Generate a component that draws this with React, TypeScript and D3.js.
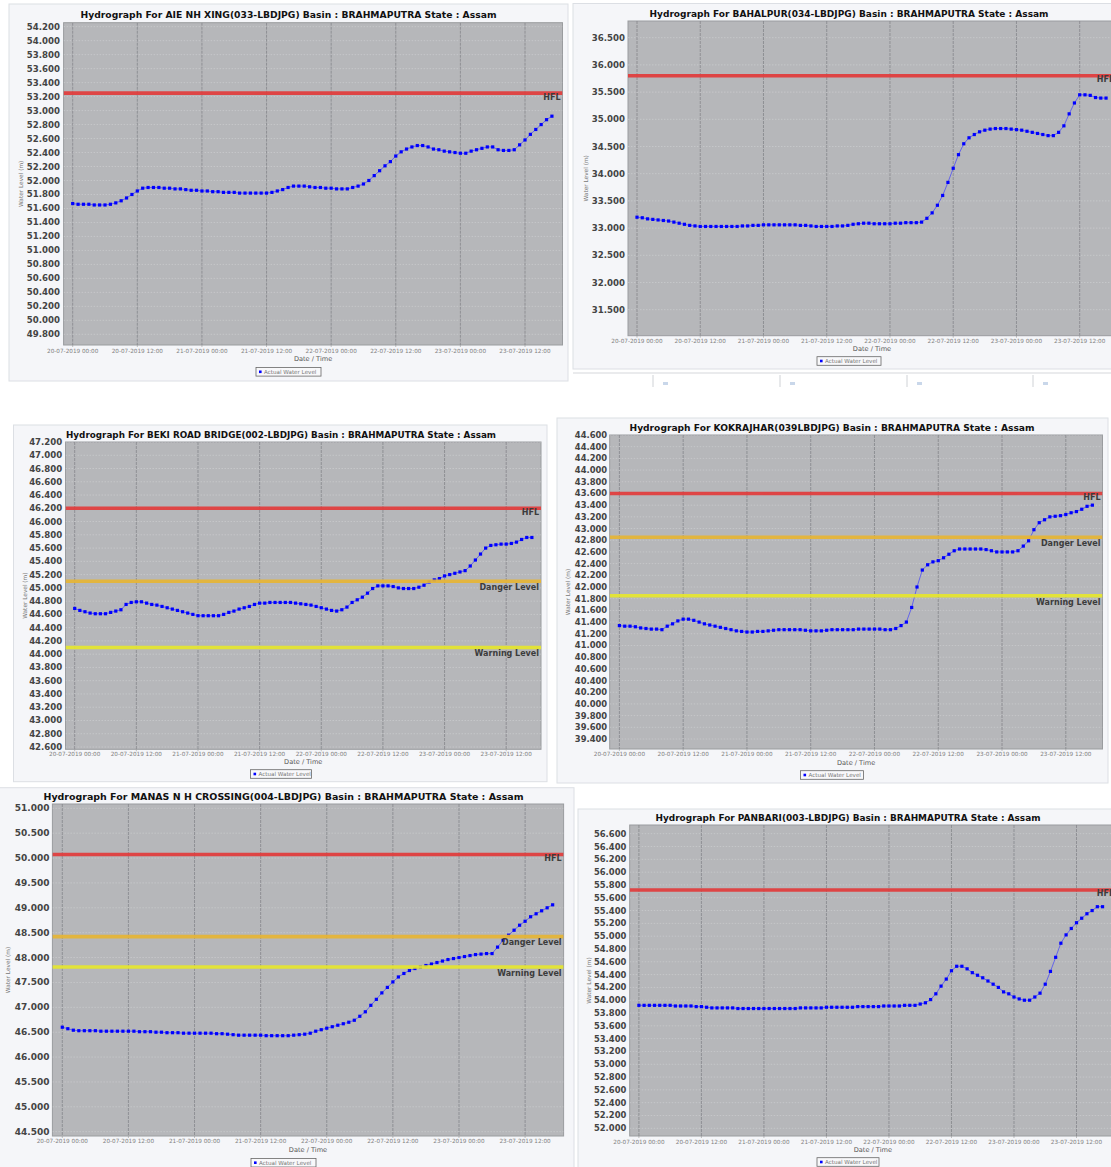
import * as d3 from "d3";

// time axis (hours from 20-07-2019 00:00)
const timeTickHours = [0, 12, 24, 36, 48, 60, 72, 84];
const timeTickLabels = [
  "20-07-2019 00:00", "20-07-2019 12:00", "21-07-2019 00:00", "21-07-2019 12:00",
  "22-07-2019 00:00", "22-07-2019 12:00", "23-07-2019 00:00", "23-07-2019 12:00",
];

const stationTitles = [
  "Hydrograph For AIE NH XING(033-LBDJPG) Basin : BRAHMAPUTRA State : Assam",
  "Hydrograph For BAHALPUR(034-LBDJPG) Basin : BRAHMAPUTRA State : Assam",
  "Hydrograph For BEKI ROAD BRIDGE(002-LBDJPG) Basin : BRAHMAPUTRA State : Assam",
  "Hydrograph For KOKRAJHAR(039LBDJPG) Basin : BRAHMAPUTRA State : Assam",
  "Hydrograph For MANAS N H CROSSING(004-LBDJPG) Basin : BRAHMAPUTRA State : Assam",
  "Hydrograph For PANBARI(003-LBDJPG) Basin : BRAHMAPUTRA State : Assam",
];

// hourly water levels (m)
const aieLevels = [
  51.67, 51.66, 51.66, 51.66, 51.65, 51.65, 51.65, 51.66, 51.68, 51.71,
  51.75, 51.80, 51.85, 51.89, 51.90, 51.90, 51.90, 51.89, 51.89, 51.88,
  51.88, 51.87, 51.86, 51.86, 51.85, 51.85, 51.84, 51.84, 51.83, 51.83,
  51.83, 51.82, 51.82, 51.82, 51.82, 51.82, 51.82, 51.83, 51.85, 51.87,
  51.90, 51.92, 51.92, 51.92, 51.91, 51.90, 51.90, 51.89, 51.89, 51.88,
  51.88, 51.88, 51.90, 51.92, 51.95, 52.00, 52.07, 52.14, 52.21, 52.27,
  52.35, 52.41, 52.45, 52.48, 52.50, 52.50, 52.48, 52.45, 52.44, 52.42,
  52.41, 52.40, 52.39, 52.39, 52.42, 52.44, 52.46, 52.48, 52.48, 52.44,
  52.43, 52.43, 52.44, 52.51, 52.58, 52.66, 52.73, 52.80, 52.87, 52.92,
];
const bahalpurLevels = [
  33.20, 33.19, 33.17, 33.16, 33.15, 33.14, 33.13, 33.11, 33.09, 33.07,
  33.05, 33.04, 33.03, 33.03, 33.03, 33.03, 33.03, 33.03, 33.03, 33.03,
  33.04, 33.04, 33.05, 33.05, 33.06, 33.06, 33.06, 33.06, 33.06, 33.06,
  33.06, 33.05, 33.05, 33.04, 33.03, 33.03, 33.03, 33.03, 33.04, 33.04,
  33.05, 33.07, 33.08, 33.09, 33.09, 33.08, 33.08, 33.08, 33.08, 33.09,
  33.09, 33.10, 33.10, 33.10, 33.11, 33.18, 33.28, 33.42, 33.60, 33.84,
  34.10, 34.35, 34.55, 34.66, 34.72, 34.77, 34.80, 34.82, 34.83, 34.83,
  34.83, 34.82, 34.81, 34.80, 34.78, 34.76, 34.74, 34.72, 34.70, 34.70,
  34.76, 34.88, 35.10, 35.30, 35.45, 35.45, 35.44, 35.40, 35.39, 35.39,
];
const bekiLevels = [
  44.69, 44.66, 44.64, 44.62, 44.61, 44.61, 44.61, 44.63, 44.65, 44.67,
  44.75, 44.78, 44.79, 44.79, 44.77, 44.75, 44.74, 44.72, 44.70, 44.68,
  44.66, 44.64, 44.62, 44.60, 44.58, 44.58, 44.58, 44.58, 44.58, 44.60,
  44.63, 44.65, 44.68, 44.70, 44.72, 44.75, 44.77, 44.77, 44.78, 44.78,
  44.78, 44.78, 44.78, 44.77, 44.76, 44.75, 44.74, 44.72, 44.70, 44.68,
  44.66, 44.65, 44.67, 44.71, 44.78, 44.82, 44.86, 44.92, 44.99, 45.03,
  45.03, 45.03, 45.02, 45.00, 44.99, 44.99, 44.99, 45.01, 45.04, 45.09,
  45.12, 45.14, 45.18, 45.20, 45.22, 45.24, 45.26, 45.33, 45.42, 45.51,
  45.60, 45.64, 45.65, 45.66, 45.66, 45.67, 45.69, 45.73, 45.76, 45.76,
];
const kokrajharLevels = [
  41.34, 41.33, 41.33, 41.32, 41.30, 41.29, 41.28, 41.28, 41.27, 41.33,
  41.37, 41.42, 41.45, 41.45, 41.43, 41.40, 41.37, 41.35, 41.33, 41.31,
  41.29, 41.27, 41.25, 41.24, 41.23, 41.23, 41.24, 41.24, 41.25, 41.26,
  41.27, 41.27, 41.27, 41.27, 41.27, 41.26, 41.25, 41.25, 41.25, 41.26,
  41.27, 41.27, 41.27, 41.27, 41.27, 41.28, 41.28, 41.28, 41.28, 41.28,
  41.27, 41.27, 41.29, 41.34, 41.40, 41.65, 42.00, 42.29, 42.38, 42.43,
  42.45, 42.50, 42.56, 42.62, 42.65, 42.65, 42.65, 42.65, 42.65, 42.64,
  42.62, 42.60, 42.60, 42.60, 42.60, 42.62, 42.70, 42.79, 42.98, 43.10,
  43.15, 43.20, 43.21, 43.22, 43.24, 43.27, 43.29, 43.33, 43.38, 43.40,
];
const manasLevels = [
  46.60, 46.57, 46.54, 46.53, 46.53, 46.53, 46.53, 46.52, 46.52, 46.52,
  46.52, 46.52, 46.52, 46.52, 46.51, 46.51, 46.51, 46.50, 46.50, 46.49,
  46.49, 46.49, 46.48, 46.48, 46.48, 46.48, 46.48, 46.48, 46.47, 46.47,
  46.46, 46.45, 46.44, 46.44, 46.44, 46.44, 46.44, 46.43, 46.43, 46.43,
  46.43, 46.43, 46.44, 46.45, 46.46, 46.48, 46.52, 46.55, 46.58, 46.61,
  46.64, 46.67, 46.70, 46.74, 46.82, 46.91, 47.04, 47.16, 47.29, 47.40,
  47.51, 47.61, 47.68, 47.74, 47.78, 47.81, 47.84, 47.87, 47.90, 47.93,
  47.96, 47.98, 48.00, 48.02, 48.04, 48.06, 48.07, 48.08, 48.08, 48.21,
  48.35, 48.45, 48.55, 48.65, 48.73, 48.82, 48.88, 48.94, 49.00, 49.06,
];
const panbariLevels = [
  53.92, 53.92, 53.92, 53.92, 53.92, 53.92, 53.92, 53.91, 53.91, 53.91,
  53.91, 53.90, 53.90, 53.89, 53.88, 53.88, 53.88, 53.88, 53.88, 53.87,
  53.87, 53.87, 53.87, 53.87, 53.87, 53.87, 53.87, 53.87, 53.87, 53.87,
  53.87, 53.88, 53.88, 53.88, 53.88, 53.88, 53.89, 53.89, 53.89, 53.89,
  53.89, 53.89, 53.90, 53.90, 53.90, 53.90, 53.90, 53.91, 53.91, 53.91,
  53.91, 53.92, 53.92, 53.92, 53.94, 53.96, 54.01, 54.10, 54.22, 54.33,
  54.46, 54.53, 54.53, 54.49, 54.43, 54.39, 54.35, 54.30, 54.25, 54.20,
  54.13, 54.10, 54.05, 54.02, 54.00, 54.00, 54.05, 54.11, 54.25, 54.45,
  54.67, 54.89, 55.02, 55.12, 55.21, 55.28, 55.35, 55.40, 55.46, 55.46,
];

const hflLevels = [53.25, 35.80, 46.20, 43.60, 50.07, 55.72];
const dangerLevels = [null, null, 45.10, 42.85, 48.42, null];
const warningLevels = [null, null, 44.10, 41.85, 47.81, null];

// [first, last, step] of y tick labels
const yTickSpecs: [number, number, number][] = [
  [49.8, 54.2, 0.2],
  [31.5, 36.5, 0.5],
  [42.6, 47.2, 0.2],
  [39.4, 44.6, 0.2],
  [44.5, 51.0, 0.5],
  [52.0, 56.6, 0.2],
];
const seriesList = [aieLevels, bahalpurLevels, bekiLevels, kokrajharLevels, manasLevels, panbariLevels];

// screen placement of each screenshot tile
const layouts = [
  { frame: [9, 4, 568, 381], plot: [63.6, 22.7, 562.5, 345], yPix: [26.7, 334.3], xPix: [72.7, 525],
    titleX: 288.5, titleY: 14, titleW: 416, tickRight: 60, yLabelX: 21, xTickY: 351, dateY: 359, legendY: 371.8, legendW: 65, tickFont: 8.6 },
  { frame: [573, 3.5, 1130, 369], plot: [628, 21, 1116, 335.7], yPix: [37.7, 309.7], xPix: [637, 1079.7],
    titleX: 849, titleY: 13.3, titleW: 399, tickRight: 625, yLabelX: 586, xTickY: 340.7, dateY: 349, legendY: 361, legendW: 64, tickFont: 8.6 },
  { frame: [13.5, 425, 547, 781.7], plot: [65.5, 442, 541, 749.3], yPix: [442, 747], xPix: [74.7, 506.2],
    titleX: 281, titleY: 434.7, titleW: 430, tickRight: 62.3, yLabelX: 24.8, xTickY: 753.7, dateY: 762, legendY: 774, legendW: 61, tickFont: 8.6 },
  { frame: [557, 418, 1108, 783], plot: [609.7, 435, 1102.5, 749], yPix: [435, 739], xPix: [619.4, 1065.8],
    titleX: 832, titleY: 427.3, titleW: 405, tickRight: 607.2, yLabelX: 568.3, xTickY: 754.3, dateY: 762.7, legendY: 775, legendW: 63, tickFont: 8.4 },
  { frame: [-1, 787.7, 574, 1175], plot: [52.4, 804, 563.6, 1136], yPix: [808.3, 1131.7], xPix: [62.3, 525.1],
    titleX: 283.5, titleY: 796, titleW: 480, tickRight: 49.5, yLabelX: 8, xTickY: 1141, dateY: 1149.7, legendY: 1162.7, legendW: 65, tickFont: 9 },
  { frame: [578, 809, 1130, 1175], plot: [629.7, 825, 1116, 1136], yPix: [833.7, 1128.3], xPix: [638.9, 1076.5],
    titleX: 848, titleY: 817, titleW: 385, tickRight: 626.3, yLabelX: 588.7, xTickY: 1141.7, dateY: 1150, legendY: 1162, legendW: 62, tickFont: 8.4 },
];

const FONT = "'DejaVu Sans', Verdana, sans-serif";

function Hydrograph({ idx }: { idx: number }) {
  const L = layouts[idx];
  const data = seriesList[idx];
  const [lo, hi, step] = yTickSpecs[idx];
  const [pl, pt, pr, pb] = L.plot;
  const [fx0, fy0, fx1, fy1] = L.frame;

  const x = d3.scaleLinear().domain([0, 84]).range(L.xPix);
  const y = d3.scaleLinear().domain([hi, lo]).range(L.yPix);
  const yTicks = d3.range(lo, hi + step / 2, step).map((v) => +v.toFixed(3));

  const line = d3.line<number>().x((_, i) => x(i)).y((d) => y(d));
  const clipId = `clip-${idx}`;
  const plotCx = (pl + pr) / 2;
  const plotCy = (pt + pb) / 2;

  const levels = [
    { v: hflLevels[idx], color: "#e23b3b", name: "HFL", off: 0.8 },
    { v: dangerLevels[idx], color: "#e7b535", name: "Danger Level", off: 3.2 },
    { v: warningLevels[idx], color: "#e6e62e", name: "Warning Level", off: 3.2 },
  ].filter((l) => l.v != null) as { v: number; color: string; name: string; off: number }[];

  const lx = L.titleX - L.legendW / 2;

  return (
    <g fontFamily={FONT}>
      <rect x={fx0} y={fy0} width={fx1 - fx0} height={fy1 - fy0} fill="#f5f6f9" stroke="#dcdfe4" />
      <text x={L.titleX} y={L.titleY} textAnchor="middle" dominantBaseline="central" fontWeight="bold"
        fontSize={9.3} fill="#111" textLength={L.titleW} lengthAdjust="spacingAndGlyphs">
        {stationTitles[idx]}
      </text>

      <clipPath id={clipId}>
        <rect x={pl} y={pt} width={pr - pl} height={pb - pt} />
      </clipPath>
      <rect x={pl} y={pt} width={pr - pl} height={pb - pt} fill="#b6b7ba" stroke="#9a9c9f" strokeWidth={1} />

      <g clipPath={`url(#${clipId})`}>
        {yTicks.map((t) => (
          <line key={t} x1={pl} x2={pr} y1={y(t)} y2={y(t)} stroke="#d0d1d3" strokeWidth={0.6} strokeDasharray="1.5,1.5" />
        ))}
        {timeTickHours.map((h) => (
          <line key={h} x1={x(h)} x2={x(h)} y1={pt} y2={pb} stroke="#85878b" strokeWidth={0.8} strokeDasharray="3,1" />
        ))}
        <path d={line(data) ?? ""} fill="none" stroke="#3c3cff" strokeWidth={0.9} opacity={0.75} />
        {data.map((d, i) => (
          <rect key={i} x={x(i) - 1.6} y={y(d) - 1.6} width={3.2} height={3.2} fill="#0000ff" />
        ))}
        {levels.map((l) => (
          <g key={l.name}>
            <line x1={pl} x2={pr} y1={y(l.v)} y2={y(l.v)} stroke={l.color} strokeWidth={3.6} opacity={0.92} />
            <text x={pr - 2} y={y(l.v) + l.off} textAnchor="end" dominantBaseline="hanging"
              fontSize={8} fontWeight="bold" fill="#3c3c3c">{l.name}</text>
          </g>
        ))}
      </g>

      {yTicks.map((t) => (
        <text key={t} x={L.tickRight} y={y(t)} textAnchor="end" dominantBaseline="central"
          fontSize={L.tickFont} fontWeight="bold" fill="#444">{t.toFixed(3)}</text>
      ))}
      <text transform={`translate(${L.yLabelX},${plotCy}) rotate(-90)`} textAnchor="middle" dominantBaseline="central"
        fontSize={5.8} fill="#777">Water Level (m)</text>

      {timeTickHours.map((h, i) => (
        <g key={h}>
          <line x1={x(h)} x2={x(h)} y1={pb} y2={pb + 2} stroke="#999" strokeWidth={0.6} />
          <text x={x(h)} y={L.xTickY} textAnchor="middle" dominantBaseline="central" fontSize={5.7} fill="#808080">
            {timeTickLabels[i]}
          </text>
        </g>
      ))}
      <text x={plotCx} y={L.dateY} textAnchor="middle" dominantBaseline="central" fontSize={6.6} fill="#555">Date / Time</text>

      <rect x={lx} y={L.legendY - 4.3} width={L.legendW} height={8.6} fill="#f8f8fa" stroke="#666" strokeWidth={0.8} />
      <rect x={lx + 3} y={L.legendY - 1.3} width={2.6} height={2.6} fill="#0000ff" />
      <text x={lx + 8} y={L.legendY} dominantBaseline="central" fontSize={5.6} fill="#777">Actual Water Level</text>
    </g>
  );
}

export default function App() {
  return (
    <svg width={1111} height={1167} style={{ position: "absolute", left: 0, top: 0, background: "#fff" }}>
      <rect width={1111} height={1167} fill="#fff" />
      {layouts.map((_, i) => <Hydrograph key={i} idx={i} />)}
      {/* strip of page chrome under the BAHALPUR tile */}
      <line x1={573} x2={1111} y1={373} y2={373} stroke="#d6d8dc" strokeWidth={1.2} />
      {[653, 780, 907, 1033].map((xv) => (
        <g key={xv}>
          <line x1={xv} x2={xv} y1={375} y2={387} stroke="#cfd2d6" />
          <rect x={xv + 10} y={382} width={5} height={3} fill="#c9d7ea" />
        </g>
      ))}
    </svg>
  );
}
